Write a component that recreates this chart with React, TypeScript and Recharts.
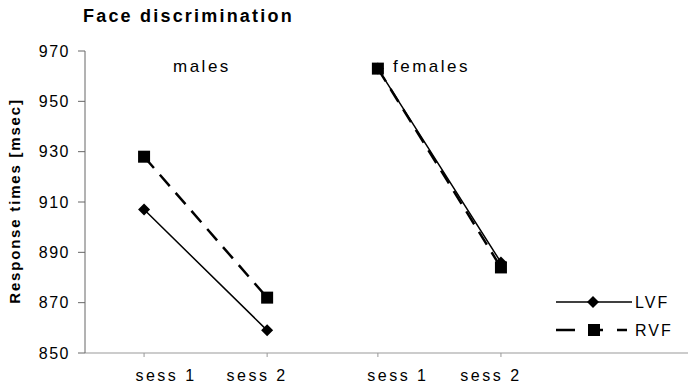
import { Line, LineChart, XAxis, YAxis, Label } from "recharts";

const groups = ["males", "females"];
const sessions = ["sess 1", "sess 2"];
const lvf = [907, 859, 963, 886];
const rvf = [928, 872, 963, 884];
const yTicks = [850, 870, 890, 910, 930, 950, 970];
const seriesNames = ["LVF", "RVF"];

const GROUP_GAP = 1.9;
const labelShift = [22, -10, 20, -10];

// one row per point, plus a null row between the groups so the lines break
const rows: any[] = [];
groups.forEach((g, gi) => {
  if (gi > 0) rows.push({ x: 1 + gi * GROUP_GAP - 0.45, lvf: null, rvf: null });
  sessions.forEach((s, si) => {
    const i = gi * sessions.length + si;
    rows.push({ x: 1 + gi * GROUP_GAP + si, label: s, lvf: lvf[i], rvf: rvf[i] });
  });
});
const tickXs = rows.filter((r) => r.label).map((r) => r.x);
const tickLabels = rows.filter((r) => r.label).map((r) => r.label);

const font = "'Liberation Sans', Arial, sans-serif";

const Diamond = ({ cx, cy }: any) =>
  cx == null || cy == null ? null : (
    <path d={`M${cx},${cy - 6}L${cx + 6},${cy}L${cx},${cy + 6}L${cx - 6},${cy}Z`} fill="#000" />
  );

const Square = ({ cx, cy }: any) =>
  cx == null || cy == null ? null : (
    <rect x={cx - 6} y={cy - 6} width={12} height={12} fill="#000" />
  );

const SessTick = ({ x, y, index }: any) => (
  <text
    x={x + (labelShift[index] || 0)}
    y={y + 22}
    textAnchor="middle"
    fontFamily={font}
    fontSize={16}
    letterSpacing={2.5}
    fill="#000"
  >
    {tickLabels[index]}
  </text>
);

const LegendBox = () => (
  <svg width={130} height={60}>
    <line x1={6} y1={12} x2={82} y2={12} stroke="#000" strokeWidth={1.5} />
    <Diamond cx={43} cy={12} />
    <text x={85} y={18} fontFamily={font} fontSize={16} letterSpacing={2}>
      {seriesNames[0]}
    </text>
    <line x1={6} y1={40} x2={82} y2={40} stroke="#000" strokeWidth={2.5} strokeDasharray="19 13 15 14 10" />
    <Square cx={44} cy={40} />
    <text x={85} y={46} fontFamily={font} fontSize={16} letterSpacing={2}>
      {seriesNames[1]}
    </text>
  </svg>
);

const App = () => {
  return (
    <div style={{ position: "absolute", left: 0, top: 0, width: 688, height: 385, background: "#fff" }}>
      <div
        style={{
          position: "absolute",
          left: 83,
          top: 6,
          fontFamily: font,
          fontWeight: "bold",
          fontSize: 18,
          letterSpacing: 2.2,
        }}
      >
        Face discrimination
      </div>
      <div style={{ position: "absolute", left: 173, top: 57, fontFamily: font, fontSize: 17, letterSpacing: 2.5 }}>
        {groups[0]}
      </div>
      <div style={{ position: "absolute", left: 393, top: 57, fontFamily: font, fontSize: 17, letterSpacing: 2.5 }}>
        {groups[1]}
      </div>
      <div style={{ position: "absolute", left: 550, top: 290 }}>
        <LegendBox />
      </div>
      <LineChart width={688} height={385} data={rows} margin={{ top: 51, right: 0, bottom: 0, left: 0 }}>
        <XAxis
          dataKey="x"
          type="number"
          domain={[0.52, 5.42]}
          ticks={tickXs}
          tick={<SessTick />}
          tickSize={4}
          stroke="#999"
          height={32}
          allowDataOverflow
        />
        <YAxis
          domain={[850, 970]}
          ticks={yTicks}
          width={85}
          tickSize={7}
          stroke="#666"
          tick={{ fill: "#000", fontFamily: font, fontSize: 16, letterSpacing: 1.5 }}
          tickMargin={8}
        >
          <Label
            content={() => (
              <text
                x={20}
                y={201}
                transform="rotate(-90 20 201)"
                textAnchor="middle"
                fontFamily={font}
                fontWeight="bold"
                fontSize={15}
                letterSpacing={1.8}
                fill="#000"
              >
                Response times [msec]
              </text>
            )}
          />
        </YAxis>
        <Line
          dataKey="lvf"
          stroke="#000"
          strokeWidth={1.5}
          dot={<Diamond />}
          activeDot={false}
          isAnimationActive={false}
        />
        <Line
          dataKey="rvf"
          stroke="#000"
          strokeWidth={2.5}
          strokeDasharray="15 9"
          dot={<Square />}
          activeDot={false}
          isAnimationActive={false}
        />
      </LineChart>
    </div>
  );
};

export default App;
